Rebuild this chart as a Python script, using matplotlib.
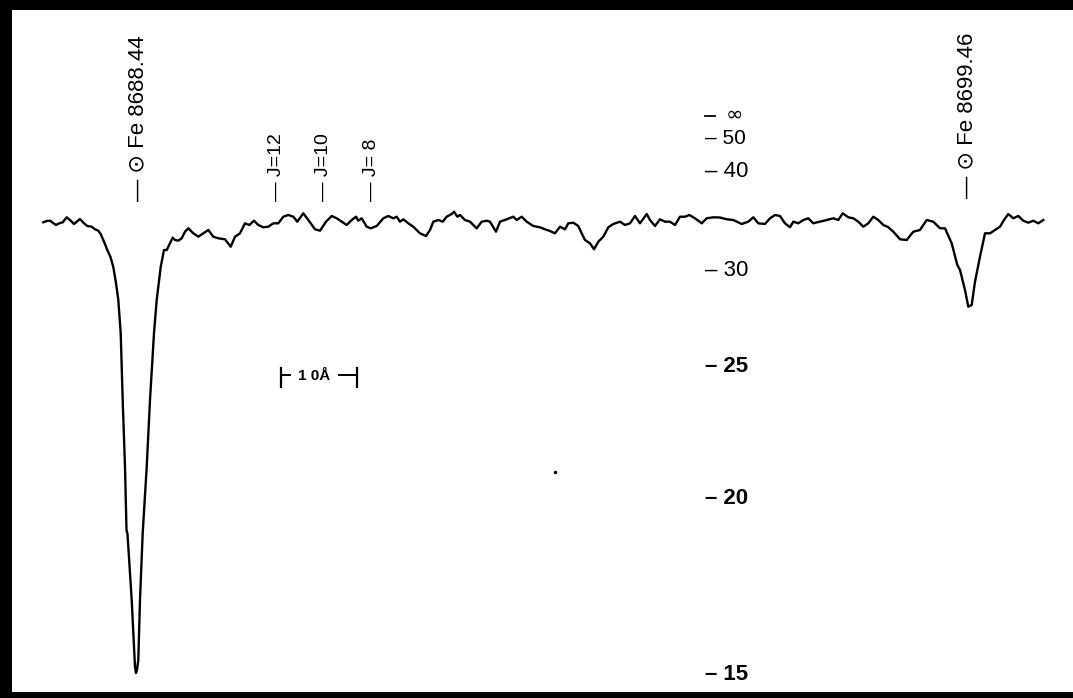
import numpy as np
import matplotlib.pyplot as plt

plt.rcParams['font.family'] = ['Liberation Sans', 'DejaVu Sans']

# tracing read along the strip: chart position and pen reading (down from top edge)
chart_x = [43.3, 46.7, 50, 52.7, 56, 59.3, 62.7, 66.7, 70.7, 74, 80, 84, 87.3, 91.7,
           95, 98.3, 100.7, 104, 107.3, 110.5, 113.3, 116, 118.3, 120.7, 122.7, 125,
           126.5, 127.5, 131.7, 135, 136, 137, 138.3, 140, 142.7, 146.7, 150, 154,
           156.7, 160.7, 164, 166.7, 170, 172.7, 175, 178.3, 181.7, 185, 188.3, 193.3,
           198.3, 203.3, 208.3, 213.3, 218.3, 225, 230.7, 235, 240, 245, 249.3, 254,
           258.3, 263.3, 268.3, 273.3, 278.3, 283.3, 288.3, 293.3, 297.3, 303.3, 308.3,
           315, 320, 326, 331.7, 336.7, 341.7, 346.7, 351.7, 356, 358.3, 361.7, 366.7,
           370.7, 376.7, 383.3, 388.3, 393.3, 396.7, 400, 403.3, 408.3, 413.3, 420, 426,
           430, 433.3, 438.3, 442.7, 446.7, 451.7, 454, 457.3, 460, 465, 470, 476.7,
           481.7, 486.7, 490, 496, 500, 506.7, 513.3, 516.7, 521.7, 526.7, 533.3, 540,
           545, 550, 555, 560, 565, 568.3, 573.3, 578.3, 581.7, 585, 590, 594, 598.3,
           603.3, 608.3, 613.3, 620, 625, 630, 635, 640, 646.7, 650, 655, 660, 665, 670,
           675, 680, 685, 689.3, 695, 701.7, 706.7, 713.3, 720, 726.7, 733.3, 741.7,
           748.3, 753.3, 758.3, 765, 770, 775, 780, 785, 790, 793.3, 798.3, 803.3, 808.3,
           813.3, 820, 826.7, 833.3, 838.3, 842.7, 848.3, 853.3, 858.3, 863.3, 868.3,
           873.3, 878.3, 883.3, 888, 893.3, 900, 906.7, 913.3, 920, 926.7, 933.3, 940,
           945, 951.7, 957.3, 960, 965, 968.3, 971.7, 975, 980, 985, 990, 995, 1000,
           1004, 1008.3, 1013.3, 1018.3, 1023.3, 1028.3, 1033.3, 1038.3, 1043.3]
pen_y = [222.3, 221, 220.7, 222.7, 225, 223.3, 222.3, 217.3, 220.7, 224, 219, 223.3, 226,
         226.7, 229.3, 230.7, 234, 241.7, 250, 257, 267, 283, 300, 333, 400, 467, 530,
         534, 600, 667, 673, 670, 660, 600, 533, 467, 400, 333, 300, 267, 250, 250,
         243.3, 237.7, 240, 240.7, 238.3, 231.7, 228.3, 233.3, 236.7, 233.3, 230, 236.7,
         238.3, 239.3, 246.7, 236.7, 233.3, 223.3, 225, 220.7, 225, 227.3, 226.7, 223.3,
         223.3, 216.7, 215, 216.7, 221.7, 213.3, 220, 229.3, 230.7, 221.7, 216, 218.3,
         221.7, 225, 220, 216.7, 220.7, 218.3, 226.7, 228.3, 226, 218.3, 216, 218.3,
         216.7, 221.7, 219.3, 223.3, 226.7, 233.3, 236, 230, 221.7, 220, 221.7, 216.7,
         214, 211.7, 216.7, 215, 220, 221.7, 228.3, 221.7, 220.7, 221.7, 231.7, 221.7,
         219.3, 216.7, 220, 216.7, 221.7, 226, 227.3, 229.3, 231, 233.3, 226.7, 229.3,
         223.3, 222.7, 226, 233.3, 240, 243.3, 249.3, 241.7, 236.7, 227.3, 224, 221.7,
         225, 223.3, 216, 223.3, 214, 220, 226, 219.3, 221.7, 221.7, 225, 216.7, 216.7,
         215, 218.3, 223.3, 218.3, 217.3, 217.5, 219.3, 220, 224, 221.7, 217.3, 223.3,
         224, 218.3, 215, 216, 223.3, 227.3, 221.7, 223.3, 220, 218.3, 223.3, 221.7,
         220, 218.3, 220, 213.3, 217.3, 218.3, 221.7, 226.7, 223.3, 216.7, 220, 225,
         227, 231.7, 239.3, 240, 231.7, 230, 220, 221.7, 228.3, 228.3, 243.3, 265, 270,
         290, 306.7, 305, 281.7, 256.7, 233.3, 233.3, 230, 226.7, 220, 214, 218.3, 216,
         220.7, 222.7, 220.7, 223.3, 220]

# chart dispersion, fixed by the two solar iron lines
fe_lines = [8688.44, 8699.46]
fe_labels = ['Fe 8688.44', 'Fe 8699.46']
fe_chart_x = 136.0
px_per_A = 75.7

# band-head positions of the rotational lines
j_lines = [8690.25, 8690.87, 8691.50]
j_labels = ['J=12', 'J=10', 'J= 8']

# calibration scale on the right of the strip
scale_labels = ['∞', '50', '40', '30', '25', '20', '15']
scale_pen = [115, 139, 171.7, 270, 367, 498, 675]
scale_lam = 8695.96

bar_start = 8690.36
bar_len = 1.0

lam = fe_lines[0] + (np.array(chart_x) - fe_chart_x) / px_per_A

fig = plt.figure(figsize=(10.73, 6.98), dpi=100, facecolor='black')
ax = fig.add_axes([12 / 1073, 6 / 698, 1061 / 1073, 682 / 698])
ax.set_facecolor('white')
ax.plot(lam, pen_y, color='black', lw=1.7, solid_joinstyle='round')

ax.set_xlim(fe_lines[0] - 124 / px_per_A, fe_lines[0] + 937 / px_per_A)
ax.set_ylim(692, 10)
ax.set_xticks([])
ax.set_yticks([])
for s in ax.spines.values():
    s.set_visible(False)

txt = dict(rotation=90, ha='center', va='bottom', color='black')
ax.text(fe_lines[0] + 0.03, 201, '— ⊙ ' + fe_labels[0], fontsize=16, **txt)
ax.text(fe_lines[1] - 0.05, 198, '— ⊙ ' + fe_labels[1], fontsize=16, **txt)
for x, lab in zip(j_lines, j_labels):
    ax.text(x + 0.05, 201, '— ' + lab, fontsize=14, **txt)

dash_w = 10 / px_per_A
for lab, yv in zip(scale_labels, scale_pen):
    wt = 'bold' if yv > 300 else 'normal'
    if lab == '∞':
        # the infinity mark: separate dash so the glyph can sit tight above "50"
        ax.plot([scale_lam, scale_lam + dash_w], [yv + 1, yv + 1], color='black', lw=1.3)
        ax.text(scale_lam + 20 / px_per_A, yv, lab, fontsize=15, ha='left',
                va='center', family='DejaVu Sans')
    else:
        ax.text(scale_lam, yv, '– ' + lab, fontsize=15 if lab == '50' else 16,
                ha='left', va='center', fontweight=wt)

# 10 A scale bar
x0, x1 = bar_start, bar_start + bar_len
ax.plot([x0, x0], [368, 387], color='black', lw=1.6)
ax.plot([x1, x1], [368, 387], color='black', lw=1.6)
ax.plot([x0, x0 + 0.12 * bar_len], [375, 375], color='black', lw=1.4)
ax.plot([x0 + 0.76 * bar_len, x1], [375, 375], color='black', lw=1.4)
ax.text(x0 + 0.43 * bar_len, 376, '1 0Å', fontsize=11,
        ha='center', va='center', fontweight='bold')

ax.plot([8693.975], [471.7], 'o', color='black', ms=1.5)

fig.savefig('out.png', dpi=100, facecolor='black')
